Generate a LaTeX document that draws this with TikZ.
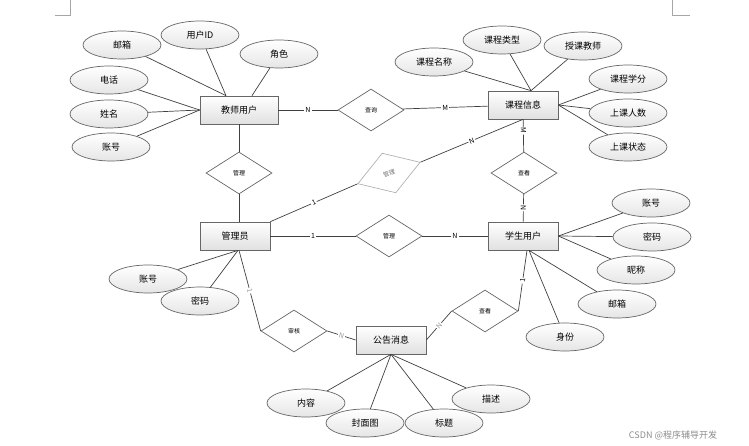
\documentclass[tikz,border=0pt]{standalone}
\usepackage{fontspec}
\setmainfont{Noto Sans CJK SC}
\usetikzlibrary{shapes.geometric,shadows}

\tikzset{
  entity/.style={draw=black!60, rectangle, minimum width=70pt, minimum height=28pt,
    top color=white, bottom color=black!12, inner sep=0pt,
    drop shadow={opacity=0.25, shadow xshift=1pt, shadow yshift=-1pt},
    font=\fontsize{9}{10}\selectfont},
  attr/.style={draw=black!60, ellipse, minimum width=78pt, minimum height=28pt,
    top color=white, bottom color=black!10, inner sep=0pt,
    font=\fontsize{9}{10}\selectfont},
  rel/.style={draw=black!60, diamond, minimum width=66pt, minimum height=42pt,
    fill=white, inner sep=0pt, font=\fontsize{6}{7}\selectfont},
  lbl/.style={fill=white, inner sep=1pt, font=\fontsize{7}{8}\selectfont},
  link/.style={draw=black!75}
}

\begin{document}
\begin{tikzpicture}[x=1pt, y=-1pt, line width=0.7pt]
    \useasboundingbox (0,0) rectangle (749,446);

    % Define nodes
    \node[entity, minimum width=78pt] (teacher) at (239,110) {教师用户};
    \node[entity] (course)  at (523,105) {课程信息};
    \node[entity] (admin)   at (235,236) {管理员};
    \node[entity] (student) at (523,236) {学生用户};
    \node[entity] (notice)  at (391,340) {公告消息};

    \node[rel] (query)   at (371,110) {查询};
    \node[rel] (manageT) at (239,173) {管理};
    \node[rel, draw=black!30, text=black!55, rotate=19] (manageC) at (389,173) {管理};
    \node[rel] (viewC)   at (524,173) {查看};
    \node[rel] (manageS) at (389,236) {管理};
    \node[rel] (audit)   at (294,331) {审核};
    \node[rel] (viewN)   at (485,311) {查看};

    \node[attr] (t1) at (122,45)  {邮箱};
    \node[attr] (t2) at (200,35)  {用户ID};
    \node[attr] (t3) at (279,54)  {角色};
    \node[attr] (t4) at (109,80)  {电话};
    \node[attr] (t5) at (109,114) {姓名};
    \node[attr] (t6) at (111,147) {账号};

    \node[attr] (c1) at (434,62)  {课程名称};
    \node[attr] (c2) at (502,40)  {课程类型};
    \node[attr] (c3) at (583,46)  {授课教师};
    \node[attr] (c4) at (628,79)  {课程学分};
    \node[attr] (c5) at (628,113) {上课人数};
    \node[attr] (c6) at (628,147) {上课状态};

    \node[attr] (s1) at (651,203) {账号};
    \node[attr] (s2) at (652,237) {密码};
    \node[attr] (s3) at (636,270) {昵称};
    \node[attr] (s4) at (617,304) {邮箱};
    \node[attr] (s5) at (565,337) {身份};

    \node[attr] (a1) at (148,279) {账号};
    \node[attr] (a2) at (200,301) {密码};

    \node[attr] (n1) at (306,403) {内容};
    \node[attr] (n2) at (365,423) {封面图};
    \node[attr] (n3) at (444,423) {标题};
    \node[attr] (n4) at (491,399) {描述};

    \node[text=black!45, font=\fontsize{9}{10}\selectfont] (mark) at (673,435) {CSDN @程序辅导开发};

    % Draw relations
    \draw[link] (teacher) -- node[lbl] {N} (query);
    \draw[link] (query) -- node[lbl] {M} (course);
    \draw[link] (teacher) -- (manageT) -- (manageT |- admin.north);
    \draw[link] (admin.north east) -- node[lbl, sloped] {1} (manageC.west);
    \draw[link] (manageC.east) -- node[lbl, sloped] {N} (course.south);
    \draw[link] (course) -- node[lbl, sloped, pos=0.35] {M} (viewC);
    \draw[link] (viewC) -- node[lbl, sloped] {N} (student);
    \draw[link] (admin) -- node[lbl] {1} (manageS);
    \draw[link] (manageS) -- node[lbl] {N} (student);
    \draw[link] ([xshift=4pt]admin.south) -- node[lbl, sloped, text=black!40] {1} (audit.west);
    \draw[link] (audit.east) -- node[lbl, sloped, text=black!40] {N} (notice.west);
    \draw[link] (notice.east) -- node[lbl, sloped, text=black!40] {N} (viewN.west);
    \draw[link] (viewN.east) -- node[lbl, sloped] {1} ([xshift=4pt]student.south);

    % Draw attributes
    \foreach \a in {t1,t2} \draw[link] (\a) -- ([xshift=-13pt]teacher.north);
    \draw[link] (t3) -- ([xshift=13pt]teacher.north);
    \foreach \a in {t4,t5,t6} \draw[link] (\a) -- (teacher.west);
    \foreach \a in {c1,c2,c3} \draw[link] (\a) -- ([xshift=8pt]course.north);
    \foreach \a in {c4,c5,c6} \draw[link] (\a) -- (course.east);
    \foreach \a in {s1,s2,s3} \draw[link] (\a) -- (student.east);
    \foreach \a in {s4,s5} \draw[link] (\a) -- ([xshift=6pt]student.south);
    \foreach \a in {a1,a2} \draw[link] (\a) -- ([xshift=3pt]admin.south);
    \foreach \a in {n1,n2,n3,n4} \draw[link] (\a) -- (notice.south);

    % Page corners
    \draw[black!35, line width=0.5pt] (55,15) -- (70,15) -- (70,0);
    \draw[black!35, line width=0.5pt] (672,0) -- (672,15) -- (690,15);
\end{tikzpicture}
\end{document}
